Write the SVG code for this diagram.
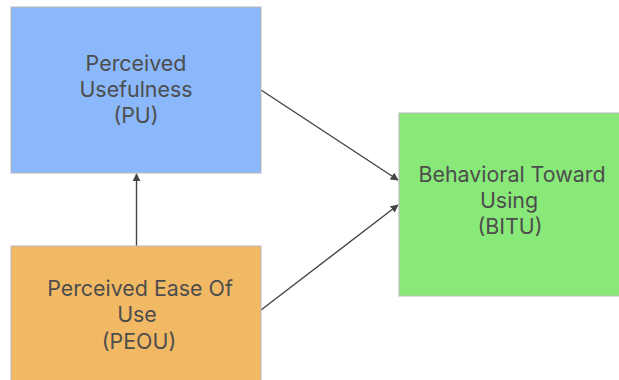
<svg xmlns="http://www.w3.org/2000/svg" width="619" height="380" viewBox="0 0 619 380">
<style>
.box{stroke:#b8b8b8;stroke-width:1}
.lbl{font-family:Inter,"Liberation Sans",sans-serif;font-size:21.4px;fill:#4d4d4d;text-anchor:middle}
.edge{stroke:#444;stroke-width:1.4;fill:none;marker-end:url(#ah)}
</style>
<defs>
<marker id="ah" viewBox="0 0 10 10" refX="9" refY="5" markerWidth="8" markerHeight="8" markerUnits="userSpaceOnUse" orient="auto">
<path d="M0,0 L10,5 L0,10 z" fill="#444"/>
</marker>
</defs>
<rect width="619" height="380" fill="#fff"/>
<g id="connectors">
<line class="edge" x1="136.5" y1="246" x2="136.5" y2="174"/>
<line class="edge" x1="261" y1="90" x2="398" y2="180"/>
<line class="edge" x1="261" y1="310" x2="398" y2="205"/>
</g>
<g id="pu">
<rect class="box" x="11" y="7" width="250" height="166" fill="#8ab8fa"/>
<text class="lbl" x="136" y="71">Perceived</text>
<text class="lbl" x="136" y="97">Usefulness</text>
<text class="lbl" x="136" y="123">(PU)</text>
</g>
<g id="peou">
<rect class="box" x="11" y="246" width="250" height="140" fill="#f2b965"/>
<text class="lbl" x="140" y="296">Perceived Ease Of</text>
<text class="lbl" x="137" y="322">Use</text>
<text class="lbl" x="139" y="349">(PEOU)</text>
</g>
<g id="bitu">
<rect class="box" x="399" y="113" width="225" height="183" fill="#88e878"/>
<text class="lbl" x="512" y="182">Behavioral Toward</text>
<text class="lbl" x="509" y="208">Using</text>
<text class="lbl" x="510" y="234">(BITU)</text>
</g>
</svg>
